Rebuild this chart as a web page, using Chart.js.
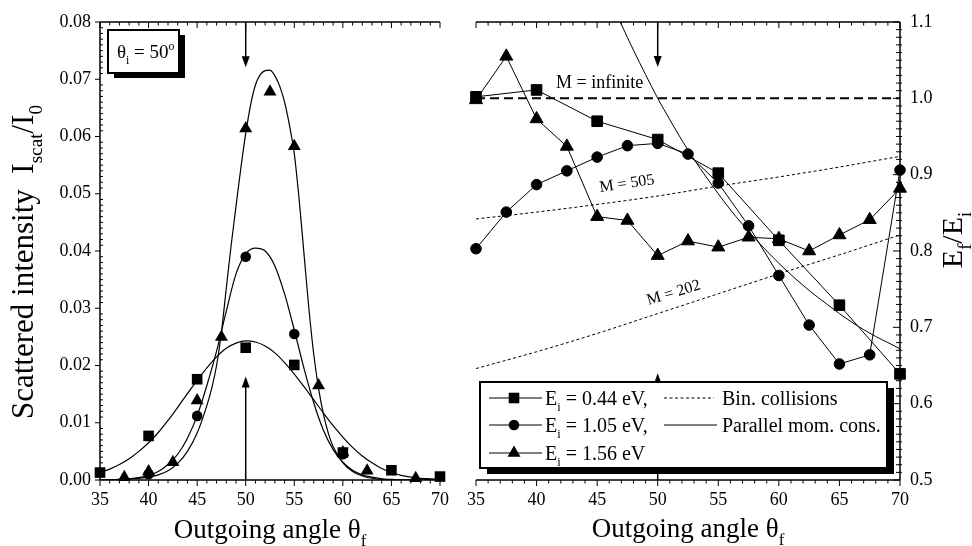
<!DOCTYPE html>
<html>
<head>
<meta charset="utf-8">
<script src="https://cdn.jsdelivr.net/npm/chart.js@4.4.0/dist/chart.umd.min.js"></script>
<style>
html, body { margin: 0; padding: 0; background: #ffffff; }
#wrap { position: relative; width: 972px; height: 546px; overflow: hidden; background: #fff; }
#c1 { position: absolute; left: 0; top: 0; }
#c2 { position: absolute; left: 458px; top: 0; }
</style>
</head>
<body>
<div id="wrap">
<canvas id="c1" width="458" height="546"></canvas>
<canvas id="c2" width="514" height="546"></canvas>
</div>
<script>
// ---------------- data ----------------
const angleTicks = [35, 40, 45, 50, 55, 60, 65, 70];
const intensityTicks = [0, 0.01, 0.02, 0.03, 0.04, 0.05, 0.06, 0.07, 0.08];
const ratioTicks = [0.5, 0.6, 0.7, 0.8, 0.9, 1.0, 1.1];

// Left panel: scattered intensity (measured points)
const sqAngleL = [35, 40, 45, 50, 55, 60, 65, 70];
const sqIntensity = [0.0013, 0.0077, 0.0176, 0.0231, 0.0201, 0.0048, 0.0017, 0.0006];
const ciAngleL = [40, 45, 50, 55, 60];
const ciIntensity = [0.0010, 0.0112, 0.0390, 0.0255, 0.0045];
const trAngleL = [37.5, 40, 42.5, 45, 47.5, 50, 52.5, 55, 57.5, 60, 62.5, 67.5];
const trIntensity = [0.0005, 0.0015, 0.0031, 0.0139, 0.0250, 0.0614, 0.0678, 0.0583, 0.0165, 0.0048, 0.0016, 0.0003];

// Left panel: fitted curves
const fitAngle = [35, 36, 37, 38, 39, 40, 41, 42, 43, 44, 45, 46, 47, 48, 49, 50, 51, 52, 53, 54, 55, 56, 57, 58, 59, 60, 61, 62, 63, 64, 65, 66, 67, 68, 69, 70];
const fitSq = [0.0013, 0.0019, 0.0027, 0.0037, 0.0050, 0.0065, 0.0083, 0.0104, 0.0127, 0.0151, 0.0174, 0.0196, 0.0215, 0.0230, 0.0239, 0.0243, 0.0241, 0.0234, 0.0222, 0.0205, 0.0185, 0.0163, 0.0140, 0.0117, 0.0095, 0.0075, 0.0057, 0.0042, 0.0030, 0.0020, 0.0013, 0.0008, 0.0005, 0.0003, 0.0002, 0.0001];
const fitCi = [0, 0, 0.0001, 0.0002, 0.0004, 0.0008, 0.0015, 0.0027, 0.0045, 0.0073, 0.0112, 0.0165, 0.0225, 0.0295, 0.0360, 0.0395, 0.0405, 0.0400, 0.0374, 0.0325, 0.0262, 0.0195, 0.0135, 0.0087, 0.0053, 0.0031, 0.0017, 0.0009, 0.0005, 0.0002, 0.0001, 0, 0, 0, 0, 0];
const fitTrAngle = [35, 36, 37, 38, 39, 40, 41, 42, 43, 44, 45, 46, 46.5, 47, 47.5, 48, 48.5, 49, 49.5, 50, 50.5, 51, 51.5, 52, 52.5, 53, 53.5, 54, 54.5, 55, 55.5, 56, 56.5, 57, 57.5, 58, 58.5, 59, 60, 61, 62, 63, 64, 65, 66, 67, 68, 69, 70];
const fitTr = [0, 0, 0.0001, 0.0002, 0.0003, 0.0005, 0.0009, 0.0016, 0.0029, 0.0050, 0.0082, 0.0130, 0.0160, 0.0200, 0.0258, 0.0335, 0.0410, 0.0478, 0.0545, 0.0605, 0.0655, 0.0690, 0.0708, 0.0715, 0.0716, 0.0706, 0.0688, 0.0660, 0.0620, 0.0570, 0.0490, 0.0395, 0.0300, 0.0220, 0.0160, 0.0115, 0.0082, 0.0058, 0.0030, 0.0015, 0.0007, 0.0003, 0.0001, 0, 0, 0, 0, 0, 0];

// Right panel: energy ratio Ef/Ei
const ratioAngle = [35, 37.5, 40, 42.5, 45, 47.5, 50, 52.5, 55, 57.5, 60, 62.5, 65, 67.5, 70];
const sqAngleR = [35, 40, 45, 50, 55, 60, 65, 70];
const sqRatio = [1.002, 1.011, 0.970, 0.946, 0.902, 0.814, 0.729, 0.639];
const ciRatio = [0.803, 0.851, 0.887, 0.905, 0.923, 0.938, 0.941, 0.927, 0.889, 0.833, 0.768, 0.703, 0.652, 0.664, 0.906];
const trRatio = [0.998, 1.055, 0.973, 0.937, 0.845, 0.840, 0.794, 0.813, 0.805, 0.818, 0.816, 0.800, 0.821, 0.841, 0.882];

// Parallel momentum conservation curve
const pmcAngle = [46, 47, 48, 49, 50, 51, 52, 53, 54, 55, 56, 57, 58, 59, 60, 61, 62, 63, 64, 65, 66, 67, 68, 69, 70];
const pmcRatio = [1.133, 1.097, 1.063, 1.031, 1.000, 0.972, 0.945, 0.920, 0.897, 0.875, 0.854, 0.835, 0.817, 0.800, 0.784, 0.769, 0.755, 0.742, 0.730, 0.718, 0.707, 0.697, 0.688, 0.680, 0.672];

// Binary collision model lines
const binAngle = [35, 40, 45, 50, 55, 60, 65, 70];
const mInfRatio = [1, 1, 1, 1, 1, 1, 1, 1];
const m505Ratio = [0.842, 0.851, 0.861, 0.872, 0.885, 0.897, 0.910, 0.924];
const m202Ratio = [0.646, 0.668, 0.692, 0.718, 0.744, 0.770, 0.795, 0.821];

// ---------------- helpers ----------------
const SERIF = "'Liberation Serif', 'Times New Roman', serif";
const pts = (xs, ys) => xs.map((x, i) => ({ x: x, y: ys[i] }));

function seg(ctx, x0, y0, x1, y1) {
  ctx.beginPath(); ctx.moveTo(x0, y0); ctx.lineTo(x1, y1); ctx.stroke();
}
function rich(ctx, parts, x, y, size, align) {
  const sizes = parts.map(p => p[1] ? size * 0.62 : size);
  const widths = parts.map((p, i) => { ctx.font = sizes[i] + 'px ' + SERIF; return ctx.measureText(p[0]).width; });
  const total = widths.reduce((a, b) => a + b, 0);
  let cx = align === 'center' ? x - total / 2 : (align === 'right' ? x - total : x);
  ctx.textAlign = 'left'; ctx.textBaseline = 'alphabetic';
  parts.forEach((p, i) => {
    ctx.font = sizes[i] + 'px ' + SERIF;
    const dy = p[1] === 'sub' ? size * 0.3 : (p[1] === 'sup' ? -size * 0.42 : 0);
    ctx.fillText(p[0], cx, y + dy);
    cx += widths[i];
  });
  return total;
}
function arrow(ctx, x, yBase, yTip) {
  const d = Math.sign(yTip - yBase);
  ctx.lineWidth = 1.5;
  seg(ctx, x, yBase, x, yTip - d * 9);
  ctx.beginPath();
  ctx.moveTo(x, yTip);
  ctx.lineTo(x - 4, yTip - d * 11);
  ctx.lineTo(x + 4, yTip - d * 11);
  ctx.closePath(); ctx.fill();
}
function marker(ctx, style, x, y) {
  ctx.beginPath();
  if (style === 'rect') { ctx.rect(x - 5.3, y - 5.3, 10.6, 10.6); }
  else if (style === 'circle') { ctx.arc(x, y, 5.3, 0, Math.PI * 2); }
  else { ctx.moveTo(x, y - 7.5); ctx.lineTo(x + 6.5, y + 3.8); ctx.lineTo(x - 6.5, y + 3.8); ctx.closePath(); }
  ctx.fill();
}
function xTicks(ctx, a, x) {
  ctx.lineWidth = 1;
  for (let v = 35; v <= 70; v++) {
    const px = x.getPixelForValue(v);
    const L = v % 5 === 0 ? 6 : 3.5;
    seg(ctx, px, a.bottom, px, a.bottom + L);
    seg(ctx, px, a.top, px, a.top + L);
  }
}
function markerDataset(xs, ys, style, radius) {
  return { data: pts(xs, ys), showLine: false, pointStyle: style, pointRadius: radius,
    backgroundColor: '#000', borderColor: '#000', borderWidth: 0, clip: 12 };
}
function lineDataset(xs, ys, opts) {
  return Object.assign({ data: pts(xs, ys), showLine: true, pointRadius: 0, borderColor: '#000',
    backgroundColor: '#000', borderWidth: 1, fill: false, cubicInterpolationMode: 'monotone' }, opts || {});
}
const tickFont = { family: SERIF, size: 18 };

// ---------------- left panel ----------------
const leftDecor = {
  id: 'leftDecor',
  afterDatasetsDraw(chart) {
    const { ctx, chartArea: a, scales: { x, y } } = chart;
    ctx.save();
    ctx.strokeStyle = '#000'; ctx.fillStyle = '#000';
    ctx.lineWidth = 1.5;
    seg(ctx, a.left, a.top, a.right, a.top);
    seg(ctx, a.left, a.bottom, a.right, a.bottom);
    seg(ctx, a.left, a.top, a.left, a.bottom);
    xTicks(ctx, a, x);
    ctx.lineWidth = 1;
    for (let k = 0; k <= 80; k++) {
      const py = y.getPixelForValue(k / 1000);
      if (k % 10 === 0) seg(ctx, a.left - 5, py, a.left, py);
      else seg(ctx, a.left, py, a.left + 3, py);
    }
    const ax = x.getPixelForValue(50);
    arrow(ctx, ax, a.top, y.getPixelForValue(0.0721));
    arrow(ctx, ax, a.bottom, y.getPixelForValue(0.0181));
    // inset box
    const bx = a.left + 8, by = a.top + 8, bw = 71, bh = 43;
    ctx.fillRect(bx + 6, by + 5, bw, bh);
    ctx.fillStyle = '#fff'; ctx.fillRect(bx, by, bw, bh);
    ctx.lineWidth = 2; ctx.strokeRect(bx, by, bw, bh);
    ctx.fillStyle = '#000';
    rich(ctx, [['θ'], ['i', 'sub'], [' = 50'], ['o', 'sup']], bx + 9, by + 28, 19, 'left');
    // titles
    rich(ctx, [['Outgoing angle θ'], ['f', 'sub']], (a.left + a.right) / 2, 538, 27, 'center');
    ctx.translate(33, 262); ctx.rotate(-Math.PI / 2);
    rich(ctx, [['Scattered intensity  I'], ['scat', 'sub'], ['/I'], ['0', 'sub']], 0, 0, 31, 'center');
    ctx.restore();
  }
};

new Chart(document.getElementById('c1'), {
  type: 'scatter',
  data: {
    datasets: [
      lineDataset(fitAngle, fitSq, { borderWidth: 1.2 }),
      lineDataset(fitAngle, fitCi, { borderWidth: 1.2 }),
      lineDataset(fitTrAngle, fitTr, { borderWidth: 1.2 }),
      markerDataset(sqAngleL, sqIntensity, 'rect', 7.5),
      markerDataset(ciAngleL, ciIntensity, 'circle', 5.3),
      markerDataset(trAngleL, trIntensity, 'triangle', 7.5)
    ]
  },
  options: {
    responsive: false, animation: false, devicePixelRatio: 1,
    layout: { padding: { left: 0, right: 15, top: 22, bottom: 0 } },
    plugins: { legend: { display: false }, tooltip: { enabled: false } },
    scales: {
      x: {
        type: 'linear', min: 35, max: 70,
        afterBuildTicks: s => { s.ticks = angleTicks.map(v => ({ value: v })); },
        afterFit: s => { s.height = 66; },
        grid: { display: false, drawTicks: false }, border: { display: false },
        ticks: { font: tickFont, color: '#000', padding: 9, maxRotation: 0, callback: v => String(v) }
      },
      y: {
        type: 'linear', min: 0, max: 0.08,
        afterBuildTicks: s => { s.ticks = intensityTicks.map(v => ({ value: v })); },
        afterFit: s => { s.width = 100; },
        grid: { display: false, drawTicks: false }, border: { display: false },
        ticks: { font: tickFont, color: '#000', padding: 9, callback: v => Number(v).toFixed(2) }
      }
    }
  },
  plugins: [leftDecor]
});

// ---------------- right panel ----------------
const rightDecor = {
  id: 'rightDecor',
  afterDatasetsDraw(chart) {
    const { ctx, chartArea: a, scales: { x, y } } = chart;
    ctx.save();
    ctx.strokeStyle = '#000'; ctx.fillStyle = '#000';
    ctx.lineWidth = 1.5;
    seg(ctx, a.left, a.top, a.right, a.top);
    seg(ctx, a.left, a.bottom, a.right, a.bottom);
    seg(ctx, a.right, a.top, a.right, a.bottom);
    xTicks(ctx, a, x);
    ctx.lineWidth = 1;
    for (let k = 50; k <= 110; k++) {
      const py = y.getPixelForValue(k / 100);
      if (k % 10 === 0) seg(ctx, a.right - 7, py, a.right, py);
      else seg(ctx, a.right - 4, py, a.right + 2, py);
    }
    const ax = x.getPixelForValue(50);
    arrow(ctx, ax, a.top, y.getPixelForValue(1.041));
    arrow(ctx, ax, a.bottom, y.getPixelForValue(0.640));
    // model labels
    rich(ctx, [['M = infinite']], x.getPixelForValue(45.2), y.getPixelForValue(1.021) + 6, 18, 'center');
    ctx.save();
    ctx.translate(x.getPixelForValue(47.45), y.getPixelForValue(0.889));
    ctx.rotate(-8.4 * Math.PI / 180);
    rich(ctx, [['M = 505']], 0, 5, 16, 'center');
    ctx.restore();
    ctx.save();
    ctx.translate(x.getPixelForValue(51.3), y.getPixelForValue(0.746));
    ctx.rotate(-17 * Math.PI / 180);
    rich(ctx, [['M = 202']], 0, 5, 16, 'center');
    ctx.restore();
    // legend box
    const L = a.left + 4, T = a.top + 360, R = a.right - 13, B = a.bottom - 12;
    ctx.fillStyle = '#000';
    ctx.fillRect(L + 7, T + 6, R - L, B - T);
    ctx.fillStyle = '#fff'; ctx.fillRect(L, T, R - L, B - T);
    ctx.lineWidth = 2; ctx.strokeRect(L, T, R - L, B - T);
    ctx.fillStyle = '#000';
    const rows = [T + 16, T + 43, T + 71];
    const styles = ['rect', 'circle', 'triangle'];
    const labels = [' = 0.44 eV,', ' = 1.05 eV,', ' = 1.56 eV'];
    ctx.lineWidth = 1;
    rows.forEach((ry, i) => {
      seg(ctx, L + 9, ry, L + 62, ry);
      marker(ctx, styles[i], L + 34, ry);
      rich(ctx, [['E'], ['i', 'sub'], [labels[i]]], L + 65, ry + 7, 20, 'left');
    });
    ctx.setLineDash([3, 2.5]);
    seg(ctx, L + 184, rows[0], L + 234, rows[0]);
    ctx.setLineDash([]);
    seg(ctx, L + 184, rows[1], L + 237, rows[1]);
    rich(ctx, [['Bin. collisions']], L + 242, rows[0] + 7, 20, 'left');
    rich(ctx, [['Parallel mom. cons.']], L + 242, rows[1] + 7, 20, 'left');
    // titles
    rich(ctx, [['Outgoing angle θ'], ['f', 'sub']], (a.left + a.right) / 2, 537, 27, 'center');
    ctx.translate(a.right + 62, 240); ctx.rotate(-Math.PI / 2);
    rich(ctx, [['E'], ['f', 'sub'], ['/E'], ['i', 'sub']], 0, 0, 30, 'center');
    ctx.restore();
  }
};

new Chart(document.getElementById('c2'), {
  type: 'scatter',
  data: {
    datasets: [
      lineDataset(binAngle, mInfRatio, { borderWidth: 2, borderDash: [9, 5], cubicInterpolationMode: 'default' }),
      lineDataset(binAngle, m505Ratio, { borderWidth: 1, borderDash: [3, 2.5] }),
      lineDataset(binAngle, m202Ratio, { borderWidth: 1, borderDash: [3, 2.5] }),
      lineDataset(pmcAngle, pmcRatio, { borderWidth: 1 }),
      Object.assign(markerDataset(sqAngleR, sqRatio, 'rect', 7.5), { showLine: true, borderWidth: 1 }),
      Object.assign(markerDataset(ratioAngle, ciRatio, 'circle', 5.3), { showLine: true, borderWidth: 1 }),
      Object.assign(markerDataset(ratioAngle, trRatio, 'triangle', 7.5), { showLine: true, borderWidth: 1 })
    ]
  },
  options: {
    responsive: false, animation: false, devicePixelRatio: 1,
    layout: { padding: { left: 16, right: 0, top: 22, bottom: 0 } },
    plugins: { legend: { display: false }, tooltip: { enabled: false } },
    scales: {
      x: {
        type: 'linear', min: 35, max: 70,
        afterBuildTicks: s => { s.ticks = angleTicks.map(v => ({ value: v })); },
        afterFit: s => { s.height = 66; },
        grid: { display: false, drawTicks: false }, border: { display: false },
        ticks: { font: tickFont, color: '#000', padding: 9, maxRotation: 0, callback: v => String(v) }
      },
      y: {
        type: 'linear', position: 'right', min: 0.5, max: 1.1,
        afterBuildTicks: s => { s.ticks = ratioTicks.map(v => ({ value: v })); },
        afterFit: s => { s.width = 72; },
        grid: { display: false, drawTicks: false }, border: { display: false },
        ticks: { font: tickFont, color: '#000', padding: 10, callback: v => Number(v).toFixed(1) }
      }
    }
  },
  plugins: [rightDecor]
});
</script>
</body>
</html>
